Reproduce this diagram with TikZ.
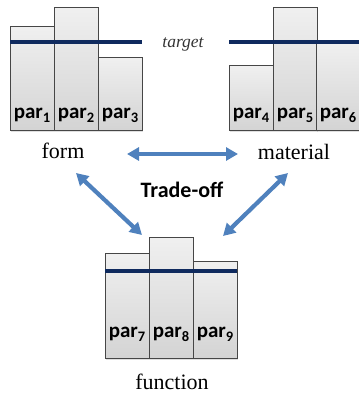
\documentclass[tikz,border=0pt]{standalone}
\usepackage{fontspec}
\setmainfont{Liberation Serif}
\newfontfamily\calib{Carlito}
\usepackage{tikz}
\usetikzlibrary{arrows.meta,positioning,shadows}
\definecolor{tgtblue}{HTML}{0F2A5E}
\definecolor{arrowblue}{HTML}{4F81BD}
\newcommand{\parsub}[1]{par\raisebox{-0.2em}{\fontsize{14.5}{14.5}\selectfont #1}}

\begin{document}
\begin{tikzpicture}[x=1pt,y=-1pt,>={Triangle[width=13pt,length=12pt]},
                    line join=miter]
  \tikzset{bar/.style={draw=gray!55!black,line width=0.8pt,top color=gray!12,
             bottom color=gray!34,minimum width=44pt,inner sep=0pt,outer sep=0pt,
             anchor=south west,drop shadow={shadow xshift=0.5pt,shadow yshift=-1.5pt,opacity=0.25}},
           parlab/.style={anchor=base,font=\calib\bfseries\fontsize{21}{24}\selectfont,inner sep=0pt},
           tgtline/.style={draw=tgtblue,line width=4.5pt},
           tgtlabel/.style={anchor=base,text=gray!40!black,font=\itshape\fontsize{17.5}{20}\selectfont},
           aspect/.style={anchor=base,font=\fontsize{22}{26}\selectfont},
           tradeoff/.style={<->,draw=arrowblue,line width=4.2pt}}
  \useasboundingbox (0,0) rectangle (359,394);

  % form
  \foreach \n/\x/\t in {1/10/26, 2/54/7, 3/98/57}
    \node[bar,minimum height={(130-\t)*1pt}] (b\n) at (\x,130) {};
  % material
  \foreach \n/\x/\t in {4/229/65, 5/273/7, 6/316/42}
    \node[bar,minimum height={(130-\t)*1pt}] (b\n) at (\x,130) {};
  % function
  \foreach \n/\x/\t in {7/105/253, 8/149/237, 9/193/261}
    \node[bar,minimum height={(358-\t)*1pt}] (b\n) at (\x,358) {};

  \foreach \n in {1,...,6}
    \node[parlab] (p\n) at ([yshift=12pt]b\n.south) {\parsub{\n}};
  \foreach \n in {7,8,9}
    \node[parlab] (p\n) at ([yshift=21pt]b\n.south) {\parsub{\n}};

  \coordinate (t1) at (0,42);
  \coordinate (t2) at (0,271);
  \draw[tgtline] (b1.west |- t1) -- (b3.east |- t1);
  \draw[tgtline] (b4.west |- t1) -- (b6.east |- t1);
  \draw[tgtline] (b7.west |- t2) -- (b9.east |- t2);
  \node[tgtlabel] (tgt) at (183,47) {target};

  \node[aspect] (form) at (63,158) {form};
  \node[aspect] (material) at (294,159) {material};
  \node[aspect] (function) at (172,389) {function};
  \node[parlab,font=\calib\bfseries\fontsize{22}{26}\selectfont] (trade) at (182,197) {Trade-off};

  \coordinate (fm1) at (127,154);
  \coordinate (fm2) at (238,154);
  \coordinate (ff1) at (76,173);
  \coordinate (ff2) at (142,235);
  \coordinate (mf1) at (288,173);
  \coordinate (mf2) at (223,236);
  \draw[tradeoff] (fm1) -- (fm2);
  \draw[tradeoff] (ff1) -- (ff2);
  \draw[tradeoff] (mf1) -- (mf2);
\end{tikzpicture}
\end{document}
